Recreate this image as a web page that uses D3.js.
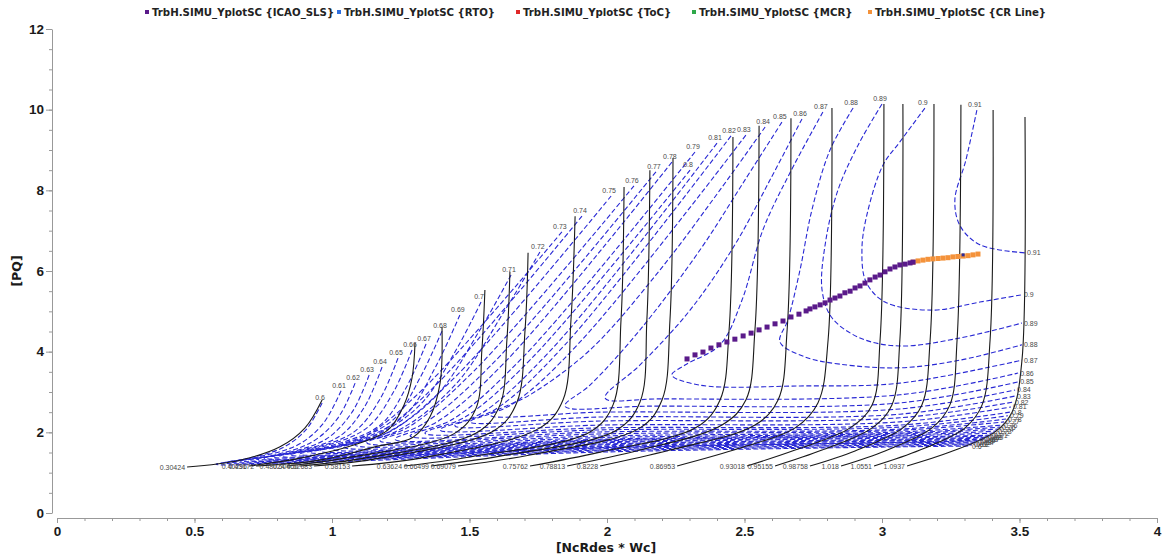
<!DOCTYPE html>
<html>
<head>
<meta charset="utf-8">
<script src="https://cdn.jsdelivr.net/npm/d3@7"></script>
<style>
  body { margin: 0; background: #fff; }
</style>
</head>
<body>
<div id="chart"></div>
<script>
// speed lines (black), labelled at their low-PQ end
const speedLabels = ['0.30424', '0.40296', '0.43172', '0.48024', '0.50460', '0.52683', '0.58153', '0.63624',
  '0.66499', '0.69079', '0.75762', '0.78813', '0.8228', '0.86953', '0.93018', '0.95155', '0.98758',
  '1.018', '1.0551', '1.0937'];

const speedLines = [
  [[0.473, 1.14], [0.665, 1.31], [0.811, 1.64], [0.902, 2.11], [0.964, 2.80]],
  [[0.698, 1.165], [0.884, 1.36], [1.091, 1.71], [1.204, 2.06], [1.262, 2.68], [1.291, 3.35], [1.302, 4.22]],
  [[0.724, 1.165], [0.956, 1.31], [1.156, 1.64], [1.295, 1.88], [1.356, 2.38], [1.393, 3.22], [1.40, 4.61]],
  [[0.836, 1.165], [1.047, 1.36], [1.447, 1.98], [1.524, 2.60], [1.545, 4.04], [1.556, 5.53]],
  [[0.884, 1.165], [1.12, 1.36], [1.531, 2.01], [1.611, 2.68], [1.636, 4.29], [1.647, 5.98]],
  [[0.935, 1.165], [1.175, 1.36], [1.593, 2.06], [1.673, 2.75], [1.702, 4.54], [1.713, 6.45]],
  [[1.073, 1.165], [1.32, 1.36], [1.756, 2.11], [1.84, 2.80], [1.869, 4.79], [1.884, 7.36]],
  [[1.262, 1.165], [1.502, 1.39], [1.938, 2.01], [2.022, 2.68], [2.051, 4.79], [2.062, 8.08]],
  [[1.36, 1.165], [1.611, 1.41], [2.036, 2.06], [2.12, 2.75], [2.145, 4.79], [2.156, 8.50]],
  [[1.458, 1.165], [1.72, 1.44], [2.12, 2.11], [2.2, 2.80], [2.229, 4.79], [2.24, 8.80]],
  [[1.72, 1.165], [1.975, 1.51], [2.327, 2.13], [2.411, 2.80], [2.444, 4.54], [2.458, 9.32]],
  [[1.855, 1.165], [2.12, 1.56], [2.418, 2.18], [2.505, 2.80], [2.538, 4.54], [2.553, 9.60]],
  [[1.975, 1.165], [2.229, 1.56], [2.538, 2.18], [2.622, 2.80], [2.655, 4.54], [2.669, 9.79]],
  [[2.255, 1.165], [2.484, 1.61], [2.684, 2.11], [2.767, 2.73], [2.804, 4.29], [2.818, 10.04]],
  [[2.509, 1.165], [2.684, 1.56], [2.884, 2.11], [2.964, 2.68], [2.993, 4.29], [3.007, 10.14]],
  [[2.611, 1.165], [2.782, 1.56], [2.964, 2.11], [3.036, 2.68], [3.065, 4.29], [3.076, 10.14]],
  [[2.738, 1.165], [2.902, 1.54], [3.076, 2.11], [3.145, 2.68], [3.175, 4.29], [3.189, 10.14]],
  [[2.851, 1.165], [3.011, 1.54], [3.182, 2.11], [3.247, 2.68], [3.273, 4.29], [3.287, 10.12]],
  [[2.971, 1.165], [3.138, 1.56], [3.302, 2.11], [3.364, 2.68], [3.393, 4.29], [3.404, 9.99]],
  [[3.091, 1.165], [3.247, 1.51], [3.411, 2.01], [3.473, 2.50], [3.509, 3.79], [3.52, 9.82]]
];

// efficiency contours (blue dashed), labelled at both ends
const effLabels = ['0.6', '0.61', '0.62', '0.63', '0.64', '0.65', '0.66', '0.67', '0.68', '0.69', '0.7',
  '0.71', '0.72', '0.73', '0.74', '0.75', '0.76', '0.77', '0.78', '0.79', '0.8', '0.81', '0.82', '0.83',
  '0.84', '0.85', '0.86', '0.87', '0.88', '0.89', '0.9', '0.91'];

const effContours = [
  [[0.964, 2.73], [0.905, 2.06], [0.818, 1.61], [0.684, 1.34], [0.578, 1.21], [1.975, 1.51], [3.065, 1.64], [3.32, 1.66]],
  [[1.033, 3.03], [0.967, 2.21], [0.876, 1.69], [0.731, 1.39], [0.607, 1.24], [1.975, 1.54], [3.065, 1.66], [3.327, 1.69]],
  [[1.084, 3.22], [1.022, 2.36], [0.927, 1.76], [0.775, 1.41], [0.636, 1.26], [1.975, 1.56], [3.065, 1.69], [3.335, 1.71]],
  [[1.135, 3.42], [1.073, 2.50], [0.978, 1.83], [0.818, 1.46], [0.665, 1.29], [1.975, 1.59], [3.065, 1.71], [3.342, 1.74]],
  [[1.182, 3.62], [1.12, 2.65], [1.029, 1.91], [0.862, 1.51], [0.695, 1.31], [1.975, 1.61], [3.065, 1.74], [3.349, 1.76]],
  [[1.24, 3.84], [1.175, 2.83], [1.08, 2.01], [0.905, 1.56], [0.724, 1.34], [1.975, 1.62], [3.065, 1.75], [3.356, 1.79]],
  [[1.291, 4.04], [1.222, 2.98], [1.127, 2.11], [0.949, 1.61], [0.753, 1.36], [1.975, 1.64], [3.065, 1.76], [3.364, 1.81]],
  [[1.342, 4.19], [1.269, 3.10], [1.175, 2.18], [0.993, 1.66], [0.782, 1.39], [1.975, 1.66], [3.065, 1.79], [3.371, 1.83]],
  [[1.40, 4.51], [1.32, 3.35], [1.222, 2.31], [1.036, 1.71], [0.811, 1.41], [1.975, 1.69], [3.065, 1.81], [3.378, 1.86]],
  [[1.465, 4.91], [1.378, 3.64], [1.269, 2.45], [1.08, 1.76], [0.847, 1.44], [1.975, 1.71], [3.065, 1.83], [3.385, 1.88]],
  [[1.542, 5.23], [1.447, 3.99], [1.32, 2.68], [1.124, 1.81], [0.884, 1.46], [1.975, 1.74], [3.065, 1.86], [3.393, 1.91]],
  [[1.651, 5.90], [1.538, 4.54], [1.378, 2.90], [1.175, 1.91], [0.92, 1.51], [1.975, 1.76], [3.065, 1.88], [3.40, 1.93]],
  [[1.756, 6.47], [1.629, 5.03], [1.447, 3.17], [1.229, 2.01], [0.956, 1.54], [1.975, 1.79], [3.065, 1.91], [3.407, 1.98]],
  [[1.836, 6.97], [1.335, 3.10], [1.124, 1.91], [1.0, 1.59], [1.975, 1.81], [3.065, 1.93], [3.415, 2.03]],
  [[1.909, 7.36], [1.389, 3.25], [1.171, 1.98], [1.04, 1.64], [1.975, 1.83], [3.065, 1.96], [3.422, 2.08]],
  [[2.015, 7.86], [1.455, 3.42], [1.222, 2.06], [1.084, 1.69], [1.975, 1.87], [3.065, 1.98], [3.429, 2.13]],
  [[2.098, 8.11], [1.516, 3.52], [1.273, 2.11], [1.127, 1.74], [1.975, 1.91], [3.065, 2.01], [3.436, 2.18]],
  [[2.178, 8.46], [1.575, 3.64], [1.324, 2.18], [1.175, 1.79], [1.975, 1.96], [3.065, 2.05], [3.444, 2.26]],
  [[2.236, 8.70], [1.633, 3.77], [1.382, 2.26], [1.229, 1.83], [1.975, 2.01], [3.065, 2.08], [3.451, 2.33]],
  [[2.32, 8.95], [1.698, 3.89], [1.44, 2.33], [1.284, 1.91], [1.975, 2.06], [3.065, 2.13], [3.458, 2.41]],
  [[2.302, 8.50], [1.724, 3.82], [1.484, 2.38], [1.338, 1.98], [1.975, 2.11], [3.065, 2.18], [3.465, 2.50]],
  [[2.40, 9.17], [1.796, 4.04], [1.545, 2.48], [1.393, 2.06], [1.975, 2.18], [3.065, 2.26], [3.469, 2.63]],
  [[2.451, 9.35], [1.847, 4.17], [1.596, 2.58], [1.447, 2.16], [1.975, 2.28], [3.065, 2.36], [3.476, 2.75]],
  [[2.505, 9.37], [1.902, 4.24], [1.651, 2.68], [1.502, 2.26], [1.975, 2.38], [3.065, 2.45], [3.484, 2.90]],
  [[2.575, 9.57], [2.411, 8.01], [2.193, 6.03], [1.938, 4.04], [1.72, 2.93], [1.575, 2.43], [1.975, 2.50], [3.065, 2.58], [3.484, 3.05]],
  [[2.636, 9.69], [2.502, 8.26], [2.338, 6.52], [2.12, 4.54], [1.938, 3.17], [1.847, 2.65], [2.156, 2.65], [3.065, 2.73], [3.495, 3.25]],
  [[2.709, 9.77], [2.593, 8.26], [2.465, 6.65], [2.302, 5.03], [2.12, 3.67], [1.993, 2.85], [2.193, 2.83], [3.065, 2.93], [3.495, 3.47]],
  [[2.785, 9.94], [2.665, 8.43], [2.567, 7.02], [2.491, 5.28], [2.411, 4.17], [2.284, 3.67], [2.236, 3.42], [2.338, 3.17], [2.702, 3.15], [3.065, 3.22], [3.509, 3.79]],
  [[2.895, 10.04], [2.811, 9.0], [2.745, 7.51], [2.702, 6.03], [2.658, 4.79], [2.629, 4.24], [2.72, 3.87], [2.847, 3.69], [3.065, 3.60], [3.284, 3.79], [3.509, 4.17]],
  [[3.0, 10.14], [2.913, 9.12], [2.84, 8.01], [2.796, 6.77], [2.782, 5.53], [2.818, 4.84], [2.92, 4.34], [3.065, 4.14], [3.284, 4.34], [3.509, 4.71]],
  [[3.156, 10.04], [3.065, 9.2], [3.004, 8.63], [2.945, 7.39], [2.927, 6.52], [2.942, 5.73], [3.011, 5.23], [3.185, 5.03], [3.356, 5.23], [3.509, 5.41]],
  [[3.345, 9.99], [3.305, 8.75], [3.265, 7.76], [3.284, 7.12], [3.356, 6.65], [3.52, 6.45]]
];

// operating points
const icaoSls = [
  [2.291, 3.82], [2.32, 3.92], [2.349, 3.99], [2.378, 4.09], [2.407, 4.17], [2.436, 4.24], [2.465, 4.31],
  [2.495, 4.39], [2.524, 4.46], [2.553, 4.54], [2.582, 4.61], [2.611, 4.69], [2.64, 4.76], [2.669, 4.86],
  [2.698, 4.93], [2.724, 5.01], [2.738, 5.06], [2.756, 5.11], [2.775, 5.16], [2.793, 5.21], [2.811, 5.28],
  [2.829, 5.33], [2.847, 5.38], [2.865, 5.46], [2.884, 5.50], [2.902, 5.58], [2.92, 5.63], [2.938, 5.70],
  [2.956, 5.78], [2.975, 5.85], [2.993, 5.90], [3.011, 5.98], [3.029, 6.05], [3.047, 6.10], [3.065, 6.15],
  [3.084, 6.17], [3.102, 6.20], [3.113, 6.22]
];
const rtoPts = [[3.295, 6.40]];
const tocPts = [];
const mcrPts = [];
const crLine = [
  [3.113, 6.22], [3.131, 6.25], [3.149, 6.27], [3.167, 6.29], [3.185, 6.30], [3.204, 6.31], [3.222, 6.32],
  [3.24, 6.33], [3.258, 6.35], [3.276, 6.36], [3.295, 6.37], [3.313, 6.38], [3.331, 6.40], [3.349, 6.42]
];

const legendNames = ['TrbH.SIMU_YplotSC {ICAO_SLS}', 'TrbH.SIMU_YplotSC {RTO}', 'TrbH.SIMU_YplotSC {ToC}',
  'TrbH.SIMU_YplotSC {MCR}', 'TrbH.SIMU_YplotSC {CR Line}'];
const legendColors = ['#5a1a8a', '#2f6fe0', '#e02828', '#2ea84a', '#f4923a'];

const xTicks = [0, 0.5, 1, 1.5, 2, 2.5, 3, 3.5, 4];
const yTicks = [0, 2, 4, 6, 8, 10, 12];

const width = 1164;
const height = 557;

const svg = d3.select('#chart')
  .append('svg')
  .attr('width', width)
  .attr('height', height)
  .style('font-family', 'DejaVu Sans, sans-serif');

const x = d3.scaleLinear().domain([0, 4]).range([57, 1157]);
const y = d3.scaleLinear().domain([0, 12]).range([513, 29]);

const line = d3.line()
  .x((d) => x(d[0]))
  .y((d) => y(d[1]))
  .curve(d3.curveCatmullRom.alpha(0.5));

// axes
function yAxis(g) {
  g.attr('transform', 'translate(52,0)')
    .call(d3.axisLeft(y).tickValues(d3.range(0, 12.01, 0.5)).tickSize(3).tickSizeOuter(0).tickFormat(''))
    .call((g) => g.selectAll('.tick line').attr('stroke', '#999'));
  g.append('g')
    .call(d3.axisLeft(y).tickValues(yTicks).tickSize(6).tickSizeOuter(0).tickFormat(d3.format('d')))
    .call((g) => g.select('.domain').remove())
    .call((g) => g.selectAll('.tick line').attr('stroke', '#999'))
    .call((g) => g.selectAll('.tick text')
      .attr('font-size', '13.5px').attr('font-weight', 'bold').attr('fill', '#1a1a1a').attr('x', -8));
  g.select('.domain').attr('stroke', '#999');
}

function xAxis(g) {
  g.attr('transform', 'translate(0,518)')
    .call(d3.axisBottom(x).tickValues(d3.range(0, 4.001, 0.1)).tickSize(3).tickSizeOuter(0).tickFormat(''))
    .call((g) => g.selectAll('.tick line').attr('stroke', '#999'));
  g.append('g')
    .call(d3.axisBottom(x).tickValues(xTicks).tickSize(5).tickSizeOuter(0).tickFormat((d) => d3.format('')(d)))
    .call((g) => g.select('.domain').remove())
    .call((g) => g.selectAll('.tick line').attr('stroke', '#999'))
    .call((g) => g.selectAll('.tick text')
      .attr('font-size', '13.5px').attr('font-weight', 'bold').attr('fill', '#1a1a1a').attr('y', 8));
  g.select('.domain').attr('stroke', '#999');
}

svg.append('g').call(yAxis);
svg.append('g').call(xAxis);

svg.append('text')
  .attr('transform', 'translate(21,271) rotate(-90)')
  .attr('text-anchor', 'middle')
  .attr('font-size', '12.5px')
  .attr('font-weight', 'bold')
  .attr('fill', '#1a1a1a')
  .text('[PQ]');

svg.append('text')
  .attr('x', 606)
  .attr('y', 552)
  .attr('text-anchor', 'middle')
  .attr('font-size', '12.5px')
  .attr('font-weight', 'bold')
  .attr('fill', '#1a1a1a')
  .text('[NcRdes * Wc]');

// efficiency contours
const effG = svg.append('g');
effG.selectAll('path')
  .data(effContours)
  .join('path')
  .attr('d', line)
  .attr('fill', 'none')
  .attr('stroke', '#2828d4')
  .attr('stroke-width', 1.1)
  .attr('stroke-dasharray', '5,2.5');

// speed lines
const spdG = svg.append('g');
spdG.selectAll('path')
  .data(speedLines)
  .join('path')
  .attr('d', line)
  .attr('fill', 'none')
  .attr('stroke', '#1a1a1a')
  .attr('stroke-width', 1.1);

// labels
const lblFont = 'Liberation Sans, Arial, sans-serif';
const lblG = svg.append('g').style('-webkit-font-smoothing', 'antialiased');
lblG.append('g')
  .selectAll('text')
  .data(speedLines)
  .join('text')
  .attr('x', (d) => x(d[0][0]) - 2)
  .attr('y', (d) => y(d[0][1]) + 2.5)
  .attr('text-anchor', 'end')
  .attr('font-family', lblFont)
  .attr('font-size', '7px')
  .attr('fill', '#4a4a4a')
  .text((d, i) => speedLabels[i]);

lblG.append('g')
  .selectAll('text')
  .data(effContours)
  .join('text')
  .attr('x', (d) => x(d[0][0]) - 2)
  .attr('y', (d) => y(d[0][1]) - 3)
  .attr('text-anchor', 'middle')
  .attr('font-family', lblFont)
  .attr('font-size', '7px')
  .attr('fill', '#4a4a4a')
  .text((d, i) => effLabels[i]);

lblG.append('g')
  .selectAll('text')
  .data(effContours)
  .join('text')
  .attr('x', (d) => x(d[d.length - 1][0]) + 2)
  .attr('y', (d) => y(d[d.length - 1][1]) + 2.5)
  .attr('text-anchor', 'start')
  .attr('font-family', lblFont)
  .attr('font-size', '7px')
  .attr('fill', '#4a4a4a')
  .text((d, i) => effLabels[i]);

// operating points
function drawSquares(data, color, size) {
  svg.append('g')
    .selectAll('rect')
    .data(data)
    .join('rect')
    .attr('x', (d) => x(d[0]) - size / 2)
    .attr('y', (d) => y(d[1]) - size / 2)
    .attr('width', size)
    .attr('height', size)
    .attr('fill', color);
}
drawSquares(crLine, legendColors[4], 5);
drawSquares(icaoSls, legendColors[0], 5);
drawSquares(rtoPts, '#2a2a9a', 3);
drawSquares(tocPts, legendColors[2], 4);
drawSquares(mcrPts, legendColors[3], 4);

// legend
const legendX = [145, 337, 516, 692, 868];
const legend = svg.append('g');
legendNames.forEach((name, i) => {
  legend.append('rect')
    .attr('x', legendX[i])
    .attr('y', 10)
    .attr('width', 4)
    .attr('height', 4)
    .attr('fill', legendColors[i]);
  legend.append('text')
    .attr('x', legendX[i] + 7)
    .attr('y', 16)
    .attr('font-family', 'DejaVu Sans, sans-serif')
    .attr('font-size', '10.2px')
    .attr('font-weight', 'bold')
    .attr('fill', '#222')
    .text(name);
});
</script>
</body>
</html>
